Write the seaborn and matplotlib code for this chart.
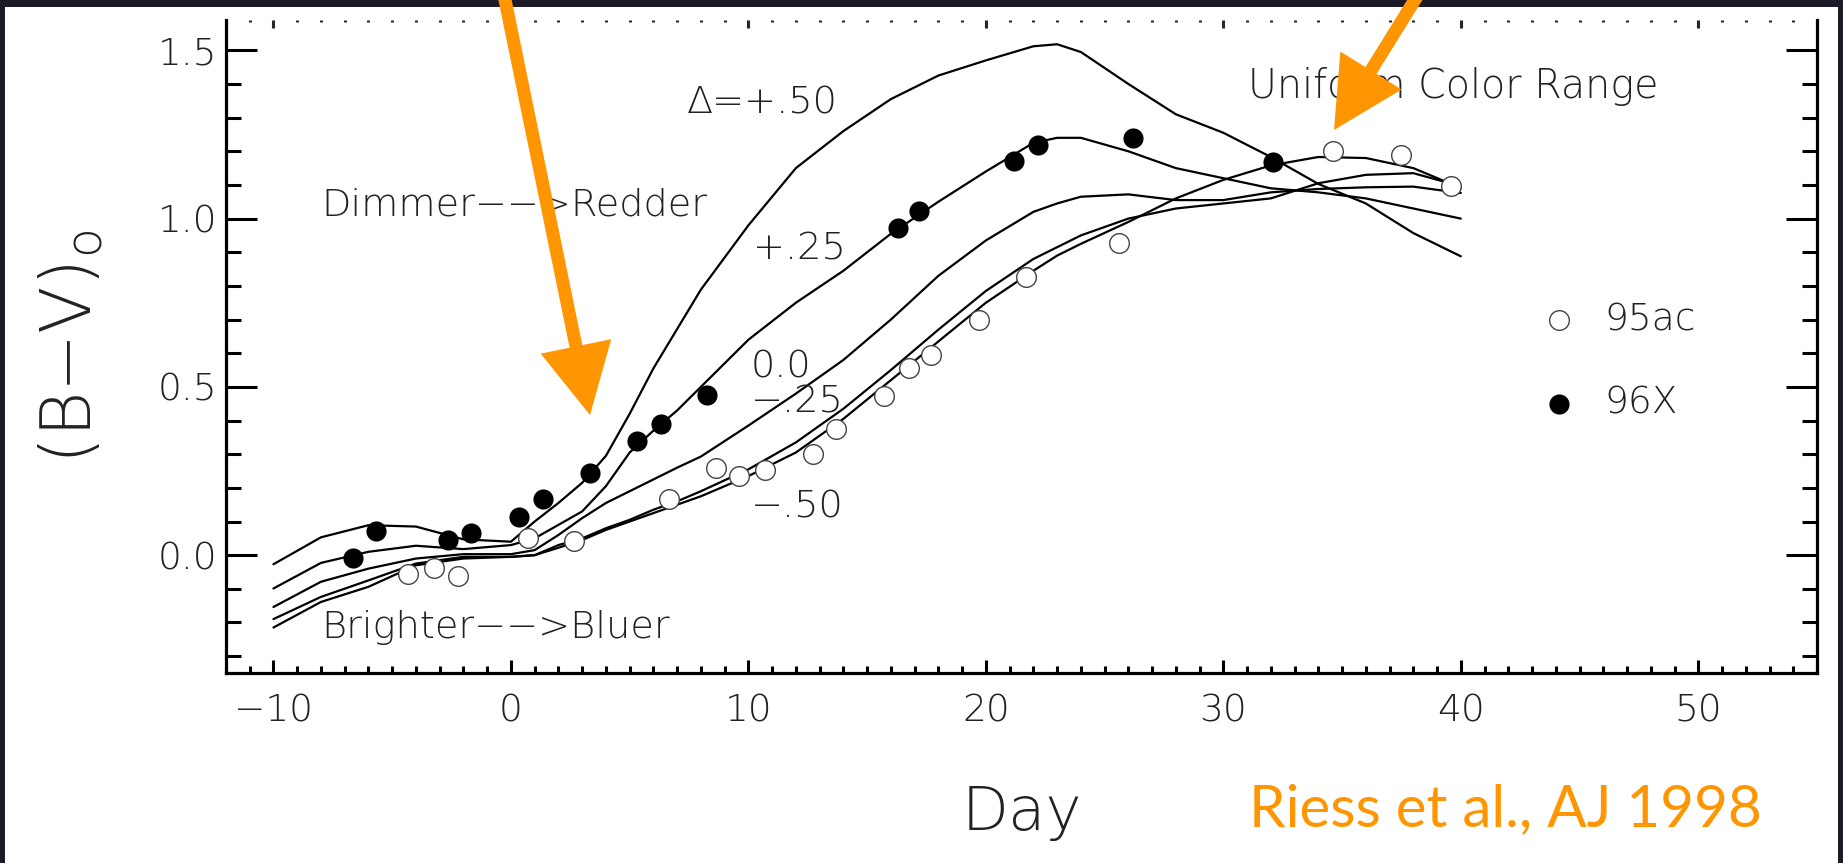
# Riess et al. 1998 style (B-V) color curves, redrawn with seaborn
import pandas as pd
import numpy as np
import seaborn as sns
import matplotlib.pyplot as plt
from matplotlib.patches import Rectangle, FancyArrow
from matplotlib.ticker import MultipleLocator

# Template curves (day, (B-V)_0) for each Delta
days = [-10, -8, -6, -4, -2, 0, 1, 2, 3, 4, 5, 6, 7, 8, 10, 12, 14, 16, 18,
        20, 22, 23, 24, 26, 28, 30, 32, 34, 36, 38, 40]
curve_p50 = [-0.027, 0.053, 0.089, 0.085, 0.047, 0.04, 0.10, 0.155, 0.215, 0.295,
             0.42, 0.555, 0.672, 0.789, 0.98, 1.15, 1.26, 1.355, 1.425, 1.47,
             1.512, 1.518, 1.495, 1.40, 1.31, 1.255, 1.183, 1.103, 1.045, 0.957, 0.888]
curve_p25 = [-0.099, -0.023, 0.01, 0.028, 0.018, 0.03, 0.05, 0.09, 0.13, 0.205,
             0.305, 0.37, 0.43, 0.50, 0.64, 0.75, 0.845, 0.955, 1.05, 1.14,
             1.225, 1.24, 1.24, 1.20, 1.15, 1.12, 1.09, 1.078, 1.06, 1.03, 1.0]
curve_00 = [-0.154, -0.079, -0.04, -0.01, 0.003, 0.003, 0.015, 0.06, 0.11, 0.155,
            0.19, 0.225, 0.26, 0.293, 0.385, 0.48, 0.58, 0.70, 0.83, 0.935,
            1.02, 1.045, 1.065, 1.072, 1.055, 1.055, 1.078, 1.088, 1.093, 1.095, 1.076]
curve_m25 = [-0.19, -0.124, -0.075, -0.025, -0.005, -0.005, 0.0, 0.03, 0.05, 0.08,
             0.105, 0.135, 0.16, 0.19, 0.255, 0.335, 0.435, 0.55, 0.67, 0.785,
             0.88, 0.915, 0.95, 1.0, 1.03, 1.045, 1.06, 1.105, 1.13, 1.135, 1.096]
curve_m50 = [-0.215, -0.139, -0.094, -0.03, -0.01, -0.005, 0.0, 0.022, 0.045, 0.075,
             0.1, 0.125, 0.15, 0.175, 0.235, 0.305, 0.405, 0.52, 0.635, 0.75,
             0.845, 0.89, 0.925, 0.99, 1.06, 1.115, 1.158, 1.183, 1.18, 1.15, 1.091]
deltas = ['+.50', '+.25', '0.0', '-.25', '-.50']

# SN 1995ac (open) and SN 1996X (filled)
sn95ac_day = [-4.35, -3.23, -2.24, 0.74, 2.67, 6.66, 8.62, 9.6, 10.7, 12.7, 13.7,
              15.7, 16.76, 17.7, 19.7, 21.7, 25.6, 34.6, 37.5, 39.6]
sn95ac_bv = [-0.057, -0.038, -0.063, 0.05, 0.043, 0.167, 0.26, 0.236, 0.253, 0.301,
             0.376, 0.472, 0.556, 0.596, 0.699, 0.826, 0.927, 1.2, 1.19, 1.096]
sn96x_day = [-6.66, -5.68, -2.66, -1.68, 0.32, 1.33, 3.32, 5.33, 6.31, 8.27,
             16.3, 17.2, 21.2, 22.2, 26.2, 32.1]
sn96x_bv = [-0.007, 0.071, 0.045, 0.066, 0.114, 0.166, 0.243, 0.339, 0.389, 0.476,
            0.972, 1.022, 1.17, 1.22, 1.238, 1.167]

curves = pd.DataFrame({
    'day': days * 5,
    'bv': curve_p50 + curve_p25 + curve_00 + curve_m25 + curve_m50,
    'delta': np.repeat(deltas, len(days)),
})

sns.set_style('white')
plt.rcParams['font.family'] = ['DejaVu Sans']
txt_color = '#222222'
thin = 200

fig = plt.figure(figsize=(18.43, 8.63), dpi=100, facecolor='#1c1b27')
# white slide panel
fig.patches.append(Rectangle((5 / 1843, 0), 1833 / 1843, 856 / 863,
                             transform=fig.transFigure, facecolor='white',
                             edgecolor='none', zorder=-1))

ax = fig.add_axes([0.1226, 0.2202, 0.8633, 0.7566])

sns.lineplot(data=curves, x='day', y='bv', units='delta', estimator=None,
             color='black', lw=1.6, sort=False, ax=ax)
sns.scatterplot(x=sn95ac_day, y=sn95ac_bv, marker='o', s=200, facecolor='white',
                edgecolor='#444444', linewidth=1.0, label='95ac', ax=ax, zorder=3)
sns.scatterplot(x=sn96x_day, y=sn96x_bv, marker='o', s=210, color='black',
                edgecolor='black', linewidth=0, label='96X', ax=ax, zorder=4)

ax.set_xlim(-12, 55)
ax.set_ylim(-0.35, 1.59)

# axes frame and ticks
for side in ['left', 'right', 'bottom']:
    ax.spines[side].set_visible(True)
    ax.spines[side].set_linewidth(2.3)
    ax.spines[side].set_color('black')
ax.spines['top'].set_visible(False)

ax.xaxis.set_major_locator(MultipleLocator(10))
ax.xaxis.set_minor_locator(MultipleLocator(1))
ax.yaxis.set_major_locator(MultipleLocator(0.5))
ax.yaxis.set_minor_locator(MultipleLocator(0.1))
ax.yaxis.set_major_formatter(plt.FormatStrFormatter('%.1f'))

ax.tick_params(axis='y', which='both', direction='in', left=True, right=True,
               width=2.2, color='black', labelsize=27, labelcolor=txt_color, pad=6)
ax.tick_params(axis='y', which='major', length=22)
ax.tick_params(axis='y', which='minor', length=11)
ax.tick_params(axis='x', which='both', direction='in', bottom=True, top=False,
               width=2.2, color='black', labelsize=27, labelcolor=txt_color, pad=15)
ax.tick_params(axis='x', which='major', length=9.5)
ax.tick_params(axis='x', which='minor', length=5)
for lab in ax.get_xticklabels() + ax.get_yticklabels():
    lab.set_fontweight(thin)

top = ax.secondary_xaxis('top')
top.spines['top'].set_visible(False)
top.xaxis.set_major_locator(MultipleLocator(10))
top.xaxis.set_minor_locator(MultipleLocator(1))
top.tick_params(axis='x', which='both', direction='in', width=2.2, labeltop=False)
top.tick_params(axis='x', which='major', length=6)
top.tick_params(axis='x', which='minor', length=1.6)

ax.set_xlabel('Day', fontsize=44, fontweight=thin, color=txt_color, labelpad=40)
ax.set_ylabel('(B\u2212V)$_\\mathregular{o}$', fontsize=50, fontweight=thin,
              color=txt_color, labelpad=38)

# annotations inside the plot
tkw = dict(fontsize=27.5, fontweight=thin, color=txt_color, va='center', ha='left')
ax.text(-8.0, 1.039, 'Dimmer\u2212\u2212>Redder', **tkw)
ax.text(-8.0, -0.214, 'Brighter\u2212\u2212>Bluer', **tkw)
ax.text(7.4, 1.342, '\u0394=+.50', **tkw)
ax.text(10.2, 0.911, '+.25', **tkw)
ax.text(10.1, 0.56, '0.0', **tkw)
ax.text(10.1, 0.455, '\u2212.25', **tkw)
ax.text(10.1, 0.143, '\u2212.50', **tkw)
ax.text(31.05, 1.393, 'Uniform Color Range', fontsize=28.5, fontweight=thin,
        color=txt_color, va='center', ha='left')

leg = ax.legend(loc='upper left', bbox_to_anchor=(0.826, 0.568), frameon=False,
                fontsize=27, handlelength=1.0, handletextpad=0.7, labelspacing=1.3,
                borderaxespad=0, borderpad=0)
for t in leg.get_texts():
    t.set_fontweight(thin)
    t.set_color(txt_color)

# citation and orange arrows
orange = '#ff9500'
fig.text(1249 / 1843, (863 - 826) / 863, 'Riess et al., AJ 1998', fontsize=42,
         color=orange, ha='left', va='baseline', family=['Lato', 'DejaVu Sans'])
for x0, y0, x1, y1 in [(503, -10, 590, 415), (1421, -10, 1334, 130)]:
    arr = FancyArrow(x0 / 100, (863 - y0) / 100, (x1 - x0) / 100, -(y1 - y0) / 100,
                     width=0.13, head_width=0.72, head_length=0.70,
                     length_includes_head=True, color=orange, lw=0,
                     transform=fig.dpi_scale_trans, zorder=10)
    fig.patches.append(arr)

plt.savefig('out.png', dpi=100, facecolor=fig.get_facecolor())
plt.close()
